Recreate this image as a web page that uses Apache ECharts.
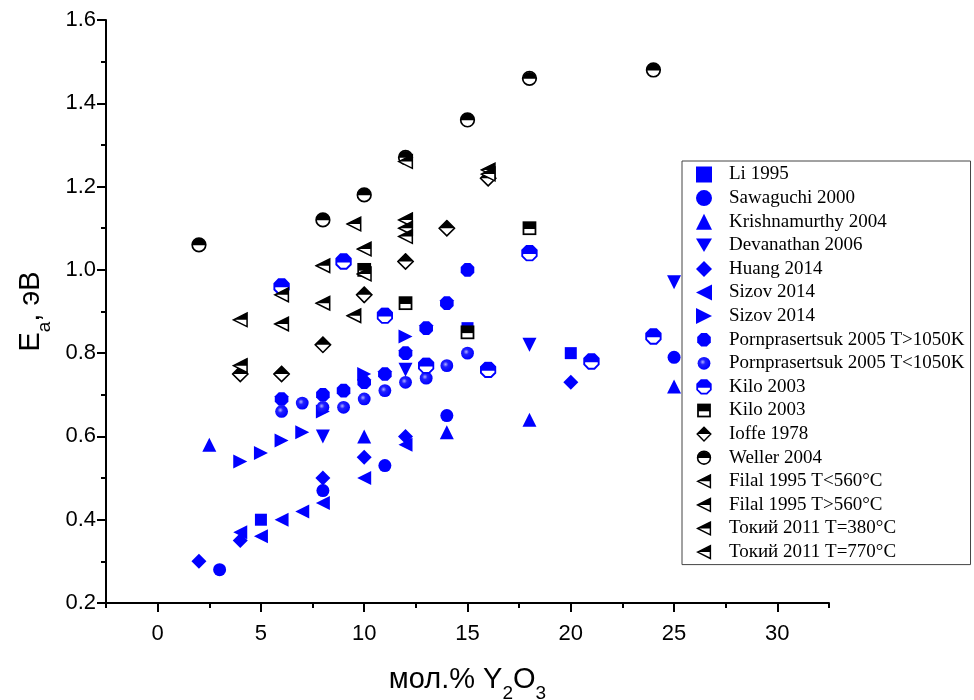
<!DOCTYPE html>
<html>
<head>
<meta charset="utf-8">
<script src="https://cdn.jsdelivr.net/npm/echarts@6/dist/echarts.min.js"></script>
<style>html,body{margin:0;padding:0;background:#fff}#c{width:974px;height:700px}</style>
</head>
<body>
<div id="c"></div>
<script>
// ---- data: [mol.% Y2O3, Ea (eV)] ----
const li1995 = [[5,0.40],[15,0.86],[20,0.80]];
const sawaguchi2000 = [[3,0.28],[8,0.47],[11,0.53],[14,0.65],[25,0.79]];
const krishnamurthy2004 = [[2.5,0.58],[10,0.60],[14,0.61],[18,0.64],[25,0.72]];
const devanathan2006 = [[8,0.60],[12,0.76],[18,0.82],[25,0.97]];
const huang2014 = [[2,0.30],[4,0.35],[8,0.50],[10,0.55],[12,0.60],[20,0.73]];
const sizovLeft2014 = [[4,0.37],[5,0.36],[6,0.40],[7,0.42],[8,0.44],[10,0.50],[12,0.58]];
const sizovRight2014 = [[4,0.54],[5,0.56],[6,0.59],[7,0.61],[8,0.66],[10,0.75],[12,0.84]];
const pornHigh2005 = [[6,0.69],[8,0.70],[9,0.71],[10,0.73],[11,0.75],[12,0.80],[13,0.86],[14,0.92],[15,1.00]];
const pornLow2005 = [[6,0.66],[7,0.68],[8,0.67],[9,0.67],[10,0.69],[11,0.71],[12,0.73],[13,0.74],[14,0.77],[15,0.80]];
const kiloBlue2003 = [[6,0.96],[9,1.02],[11,0.89],[13,0.77],[16,0.76],[18,1.04],[21,0.78],[24,0.84]];
const kiloBlack2003 = [[10,1.00],[12,0.92],[15,0.85],[18,1.10]];
const ioffe1978 = [[4,0.75],[6,0.75],[8,0.82],[10,0.94],[12,1.02],[14,1.10],[16,1.22]];
const weller2004 = [[2,1.06],[8,1.12],[10,1.18],[12,1.27],[15,1.36],[18,1.46],[24,1.48]];
const filalLow1995 = [[4,0.88],[6,0.94],[8,1.01],[10,1.05],[12,1.12]];
const filalHigh1995 = [[4,0.77],[6,0.87],[8,0.92],[9.5,0.89],[10,0.99]];
const tokii380 = [[9.5,1.11],[12,1.10],[16,1.24]];
const tokii770 = [[12,1.08],[12,1.26],[16,1.23]];

const xMajorTicks = [0,5,10,15,20,25,30];
const xMinorTicks = [-2.5,2.5,7.5,12.5,17.5,22.5,27.5,32.5];

// ---- marker shapes ----
const BLUE = '#0000FF';
function svg(inner){
  return 'image://data:image/svg+xml;charset=utf-8,' + encodeURIComponent(
    '<svg xmlns="http://www.w3.org/2000/svg" width="40" height="40" viewBox="0 0 20 20">' + inner + '</svg>');
}
const oct = 'M6.5 1.5 L13.5 1.5 L18.5 6.5 L18.5 13.5 L13.5 18.5 L6.5 18.5 L1.5 13.5 L1.5 6.5 Z';
const octTop = 'M6.5 1.5 L13.5 1.5 L18.5 6.5 L18.5 11 L1.5 11 L1.5 6.5 Z';
const symKiloBlue = svg('<path d="'+oct+'" fill="#fff" stroke="'+BLUE+'" stroke-width="2.2"/><path d="'+octTop+'" fill="'+BLUE+'"/>');
const symKiloBlack = svg('<rect x="2.5" y="2.5" width="15" height="15" fill="#fff" stroke="#000" stroke-width="2.2"/><rect x="2.5" y="2.5" width="15" height="8.5" fill="#000"/>');
const symIoffe = svg('<path d="M10 1.5 L18.5 10 L10 18.5 L1.5 10 Z" fill="#fff" stroke="#000" stroke-width="1.8"/><path d="M10 1.5 L18.5 10 L1.5 10 Z" fill="#000"/>');
const symWeller = svg('<circle cx="10" cy="10" r="8" fill="#fff" stroke="#000" stroke-width="2"/><path d="M2 10.5 A8 8 0 0 1 18 10.5 Z" fill="#000"/>');
const symHalfLeft = svg('<path d="M2 10 L18 2 L18 18 Z" fill="#fff" stroke="#000" stroke-width="1.8"/><path d="M2 10 L18 2 L18 10 Z" fill="#000"/>');
const symOct = svg('<path d="'+oct+'" fill="'+BLUE+'"/>');
const symSphere = svg('<defs><radialGradient id="g" cx="0.4" cy="0.4" r="0.6"><stop offset="0" stop-color="#b0b0ff"/><stop offset="0.35" stop-color="#2020ff"/><stop offset="1" stop-color="'+BLUE+'"/></radialGradient></defs><circle cx="10" cy="10" r="8" fill="url(#g)"/>');

function sc(name, data, symbol, size){
  return {
    type:'scatter', name:name, data:data, symbol:symbol, symbolSize:size,
    itemStyle:{color:BLUE, opacity:1}, emphasis:{disabled:true}, animation:false
  };
}

const series = [
  sc('Li 1995', li1995, 'rect', 12),
  sc('Sawaguchi 2000', sawaguchi2000, 'circle', 13),
  sc('Krishnamurthy 2004', krishnamurthy2004, 'triangle', 14),
  sc('Devanathan 2006', devanathan2006, 'path://M0 0 L20 0 L10 17 Z', 14),
  sc('Huang 2014', huang2014, 'diamond', 15),
  sc('Sizov 2014', sizovLeft2014, 'path://M0 8.5 L17 0 L17 17 Z', 14),
  sc('Sizov 2014\u200B', sizovRight2014, 'path://M17 8.5 L0 0 L0 17 Z', 14),
  sc('Pornprasertsuk 2005 T>1050K', pornHigh2005, symOct, 16),
  sc('Pornprasertsuk 2005 T<1050K', pornLow2005, symSphere, 16),
  sc('Kilo 2003', kiloBlue2003, symKiloBlue, 17),
  sc('Kilo 2003\u200B', kiloBlack2003, symKiloBlack, 16),
  sc('Ioffe 1978', ioffe1978, symIoffe, 18),
  sc('Weller 2004', weller2004, symWeller, 17),
  sc('Filal 1995 T<560°C', filalLow1995, symHalfLeft, 17),
  sc('Filal 1995 T>560°C', filalHigh1995, symHalfLeft, 17),
  sc('Токий 2011 T=380°C', tokii380, symHalfLeft, 17),
  sc('Токий 2011 T=770°C', tokii770, symHalfLeft, 17)
];

const SANS = "'Liberation Sans', Arial, sans-serif";
const axisFont = {fontFamily:SANS, fontSize:22, color:'#000'};
const nameRich = {
  n:{fontFamily:SANS, fontSize:29, color:'#000', verticalAlign:'bottom', lineHeight:34},
  s:{fontFamily:SANS, fontSize:19, color:'#000', verticalAlign:'bottom', lineHeight:19, padding:[0,0,-9,0]}
};

const chart = echarts.init(document.getElementById('c'), null, {renderer:'canvas'});
chart.setOption({
  backgroundColor:'#fff',
  animation:false,
  grid:{left:106, top:20, right:145, bottom:97, containLabel:false, outerBoundsMode:'none'},
  legend:{
    orient:'vertical', left:682, top:161,
    data: series.map(s=>s.name),
    itemWidth:16, itemHeight:16, itemGap:4.6,
    padding:[4,6,3,14],
    borderColor:'#444', borderWidth:1, backgroundColor:'#fff',
    textStyle:{fontFamily:"'Liberation Serif', 'Times New Roman', serif", fontSize:19, color:'#000', padding:[0,0,0,12]},
    selectedMode:false
  },
  xAxis:[{
    type:'value', min:-2.5, max:32.5, interval:2.5,
    name:'{n|мол.% Y}{s|2}{n|O}{s|3}', nameLocation:'middle', nameGap:57,
    nameTextStyle:{rich:nameRich},
    axisLine:{show:true, onZero:false, lineStyle:{color:'#000', width:2}},
    axisTick:{show:true, length:9, lineStyle:{color:'#000', width:2}, customValues:xMajorTicks},
    axisLabel:{...axisFont, margin:20, customValues:xMajorTicks, formatter:v=>String(v)},
    splitLine:{show:false}
  },{
    type:'value', min:-2.5, max:32.5, interval:2.5, position:'bottom',
    axisLine:{show:false},
    axisTick:{show:true, length:5, lineStyle:{color:'#000', width:2}, customValues:xMinorTicks},
    axisLabel:{show:false},
    splitLine:{show:false}
  }],
  yAxis:{
    type:'value', min:0.2, max:1.6, interval:0.2,
    name:'{n|E}{s|a}{n|, эВ}', nameLocation:'middle', nameGap:58,
    nameTextStyle:{rich:nameRich},
    axisLine:{show:true, onZero:false, lineStyle:{color:'#000', width:2}},
    axisTick:{show:true, length:9, lineStyle:{color:'#000', width:2}},
    minorTick:{show:true, splitNumber:2, length:5, lineStyle:{color:'#000', width:2}},
    axisLabel:{...axisFont, margin:10, formatter:v=>v.toFixed(1)},
    splitLine:{show:false}
  },
  series: series.map(s=>Object.assign(s,{xAxisIndex:0}))
});
</script>
</body>
</html>
